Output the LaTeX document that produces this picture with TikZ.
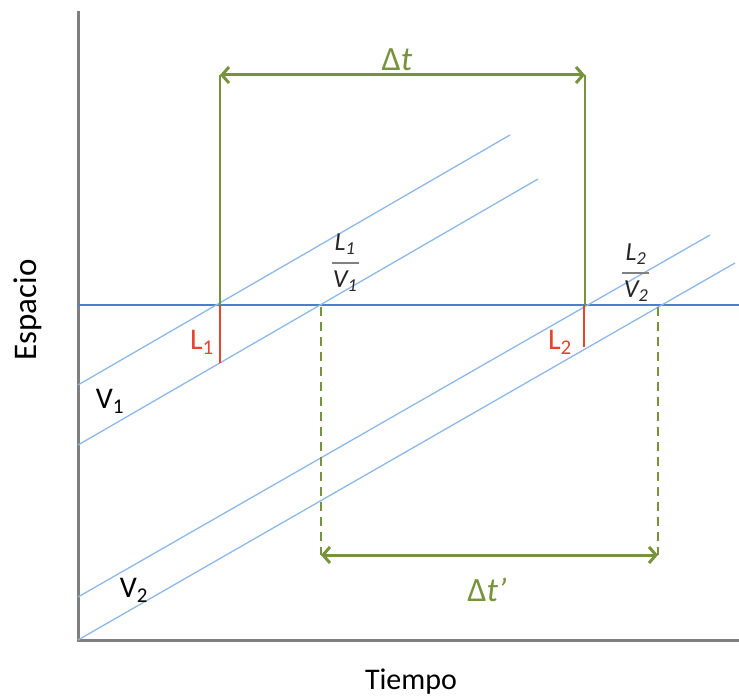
\documentclass[tikz,border=0pt]{standalone}
\usepackage{fontspec}
\setmainfont{Carlito}
\usetikzlibrary{arrows.meta}
\definecolor{lblue}{HTML}{8DB8E8}
\definecolor{mblue}{HTML}{4A7FD0}
\definecolor{grn}{HTML}{77933C}
\definecolor{rd}{HTML}{E8442A}
\definecolor{axisgray}{HTML}{7F7F7F}
\definecolor{txtdark}{HTML}{262626}
\begin{document}
\begin{tikzpicture}[x=1pt,y=-1pt,
  axisline/.style={draw=axisgray,line width=3pt,line cap=rect},
  wline/.style={draw=lblue,line width=1.3pt},
  hline/.style={draw=mblue,line width=2pt},
  gline/.style={draw=grn,line width=1.5pt},
  gdash/.style={draw=grn,line width=1.8pt,dash pattern=on 9pt off 6pt},
  rline/.style={draw=rd,line width=1.5pt},
  garrow/.style={draw=grn,line width=3pt,{Straight Barb[length=7pt,width=16pt,line width=3pt]}-{Straight Barb[length=7pt,width=16pt,line width=3pt]}},
  lbl/.style={font=\fontsize{30}{32}\selectfont,inner sep=0pt},
  fracpart/.style={font=\fontsize{26}{28}\selectfont\itshape,inner sep=0pt,text=txtdark},
  fracbar/.style={draw=gray,line width=2.5pt}
]
\useasboundingbox (0,0) rectangle (739,700);
% axes
\coordinate (O) at (78,640);
\coordinate (Ytop) at (78,13);
\coordinate (Xend) at (739,640);
\draw[axisline] (Ytop) -- (O) -- (Xend);
% horizontal blue line
\coordinate (H0) at (78,305);
\coordinate (H1) at (739,305);
\draw[hline] (H0) -- (H1);
% world lines
\coordinate (a0) at (78,385); \coordinate (a1) at (510,135);
\coordinate (b0) at (78,445); \coordinate (b1) at (538,179);
\coordinate (c0) at (78,597); \coordinate (c1) at (710,235);
\coordinate (d0) at (78,640); \coordinate (d1) at (735,263);
\draw[wline] (a0) -- (a1);
\draw[wline] (b0) -- (b1);
\draw[wline] (c0) -- (c1);
\draw[wline] (d0) -- (d1);
% red segments
\coordinate (r1t) at (220,305); \coordinate (r1b) at (220,363);
\coordinate (r2t) at (584,305); \coordinate (r2b) at (584,347);
\draw[rline] (r1t) -- (r1b);
\draw[rline] (r2t) -- (r2b);
% green solid
\coordinate (g1t) at (220,75); \coordinate (g2t) at (585,75);
\coordinate (g2b) at (585,305);
\draw[gline] (r1t) -- (g1t);
\draw[gline] (g2b) -- (g2t);
\draw[garrow] (g1t) -- (g2t);
% green dashed
\coordinate (k1t) at (321,307); \coordinate (k1b) at (321,555);
\coordinate (k2t) at (658,307); \coordinate (k2b) at (658,555);
\draw[gdash] (k1t) -- (k1b);
\draw[gdash] (k2t) -- (k2b);
\draw[garrow] (k1b) -- (k2b);
% labels
\node[text=grn,inner sep=0pt,font=\fontsize{34}{36}\selectfont] (dt) at (397,60) {Δ\textit{t}};
\node[text=grn,inner sep=0pt,font=\fontsize{34}{36}\selectfont] (dtp) at (487,590) {Δ\textit{t}\textit{'}};
\node[lbl,text=rd] (L1) at (202,342) {L\textsubscript{1}};
\node[lbl,text=rd] (L2) at (560,342) {L\textsubscript{2}};
\node[lbl] (V1) at (110,401) {V\textsubscript{1}};
\node[lbl] (V2) at (134,590) {V\textsubscript{2}};
% fractions
\node[fracpart] (n1) at (345,244) {L\textsubscript{1}};
\node[fracpart] (m1) at (345,281) {V\textsubscript{1}};
\coordinate (b1l) at (332,263); \coordinate (b1r) at (359,263);
\draw[fracbar] (b1l) -- (b1r);
\node[fracpart] (n2) at (636,254) {L\textsubscript{2}};
\node[fracpart] (m2) at (636,291) {V\textsubscript{2}};
\coordinate (b2l) at (622,273); \coordinate (b2r) at (649,273);
\draw[fracbar] (b2l) -- (b2r);
\node[rotate=90,inner sep=0pt,font=\fontsize{33}{35}\selectfont] (esp) at (28,310) {Espacio};
\node[lbl] (tie) at (411,682) {Tiempo};
\end{tikzpicture}
\end{document}
